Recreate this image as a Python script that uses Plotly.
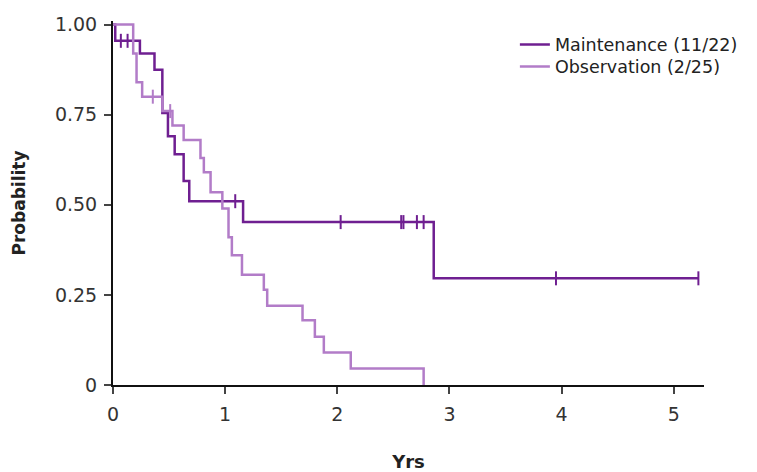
import numpy as np
import plotly.graph_objects as go

# ---- data ----
maint_time = [0, 0.02, 0.24, 0.37, 0.44, 0.49, 0.55, 0.63, 0.68, 1.16, 2.86, 5.22]
maint_surv = [1.0, 0.955, 0.92, 0.875, 0.755, 0.69, 0.64, 0.566, 0.51, 0.452, 0.296, 0.296]
maint_censor = [0.07, 0.13, 1.09, 2.03, 2.57, 2.59, 2.71, 2.77, 3.95, 5.22]

obs_time = [0, 0.18, 0.21, 0.26, 0.44, 0.53, 0.63, 0.78, 0.81, 0.87, 0.975, 1.03, 1.06,
            1.15, 1.345, 1.375, 1.69, 1.80, 1.88, 2.12, 2.77]
obs_surv = [1.0, 0.92, 0.84, 0.80, 0.76, 0.72, 0.68, 0.63, 0.59, 0.535, 0.49, 0.41, 0.36,
            0.306, 0.264, 0.22, 0.18, 0.134, 0.09, 0.046, 0.0]
obs_censor = [0.355, 0.51]

series_names = ["Maintenance (11/22)", "Observation (2/25)"]
x_ticks = [0, 1, 2, 3, 4, 5]
y_ticks = [0, 0.25, 0.5, 0.75, 1.0]
y_tick_labels = ["0", "0.25", "0.50", "0.75", "1.00"]

DARK = "#6f1f91"
LIGHT = "#b27cc8"
FONT = "DejaVu Sans, Liberation Sans, Arial, sans-serif"


def step_at(times, surv, pts):
    t = np.asarray(times)
    s = np.asarray(surv)
    idx = np.searchsorted(t, np.asarray(pts), side="right") - 1
    return s[idx]


fig = go.Figure()
for name, t, s, c, col, lg in [
    (series_names[0], maint_time, maint_surv, maint_censor, DARK, "legend"),
    (series_names[1], obs_time, obs_surv, obs_censor, LIGHT, "legend2"),
]:
    fig.add_trace(go.Scatter(x=t, y=s, mode="lines", line=dict(shape="hv", color=col, width=2.5),
                             name=name, legend=lg))
    fig.add_trace(go.Scatter(x=c, y=step_at(t, s, c), mode="markers", showlegend=False,
                             marker=dict(symbol="line-ns", size=10, line=dict(color=col, width=2)),
                             cliponaxis=False, hoverinfo="skip"))

legend_style = dict(xanchor="left", yanchor="middle", bgcolor="rgba(0,0,0,0)",
                    font=dict(size=17.5, color="#222"), itemwidth=30)
fig.update_layout(
    width=757, height=472,
    margin=dict(l=105, r=61, t=13.4, b=95),
    plot_bgcolor="white", paper_bgcolor="white",
    font=dict(family=FONT, size=18, color="#222"),
    showlegend=True,
    legend=dict(x=0.68, y=0.935, **legend_style),
    legend2=dict(x=0.68, y=0.8746, **legend_style),
)
fig.update_xaxes(range=[0, 5.27], tickvals=x_ticks, ticks="outside", ticklen=7, tickwidth=2,
                 showline=True, linecolor="#111", linewidth=2, showgrid=False, zeroline=False,
                 automargin=False, ticklabelstandoff=4, tickfont=dict(size=19, color="#333"),
                 title=dict(text="<b>Yrs</b>", font=dict(size=18, color="#222"), standoff=32))
fig.update_yaxes(range=[0, 1.01], tickvals=y_ticks, ticktext=y_tick_labels, ticks="outside",
                 ticklen=7, tickwidth=2, showline=True, linecolor="#111", linewidth=2,
                 showgrid=False, zeroline=False, automargin=False, ticklabelstandoff=3,
                 tickfont=dict(size=19, color="#333"),
                 title=dict(text="<b>Probability</b>", font=dict(size=17, color="#222"), standoff=25))

fig.write_html("out.html")
